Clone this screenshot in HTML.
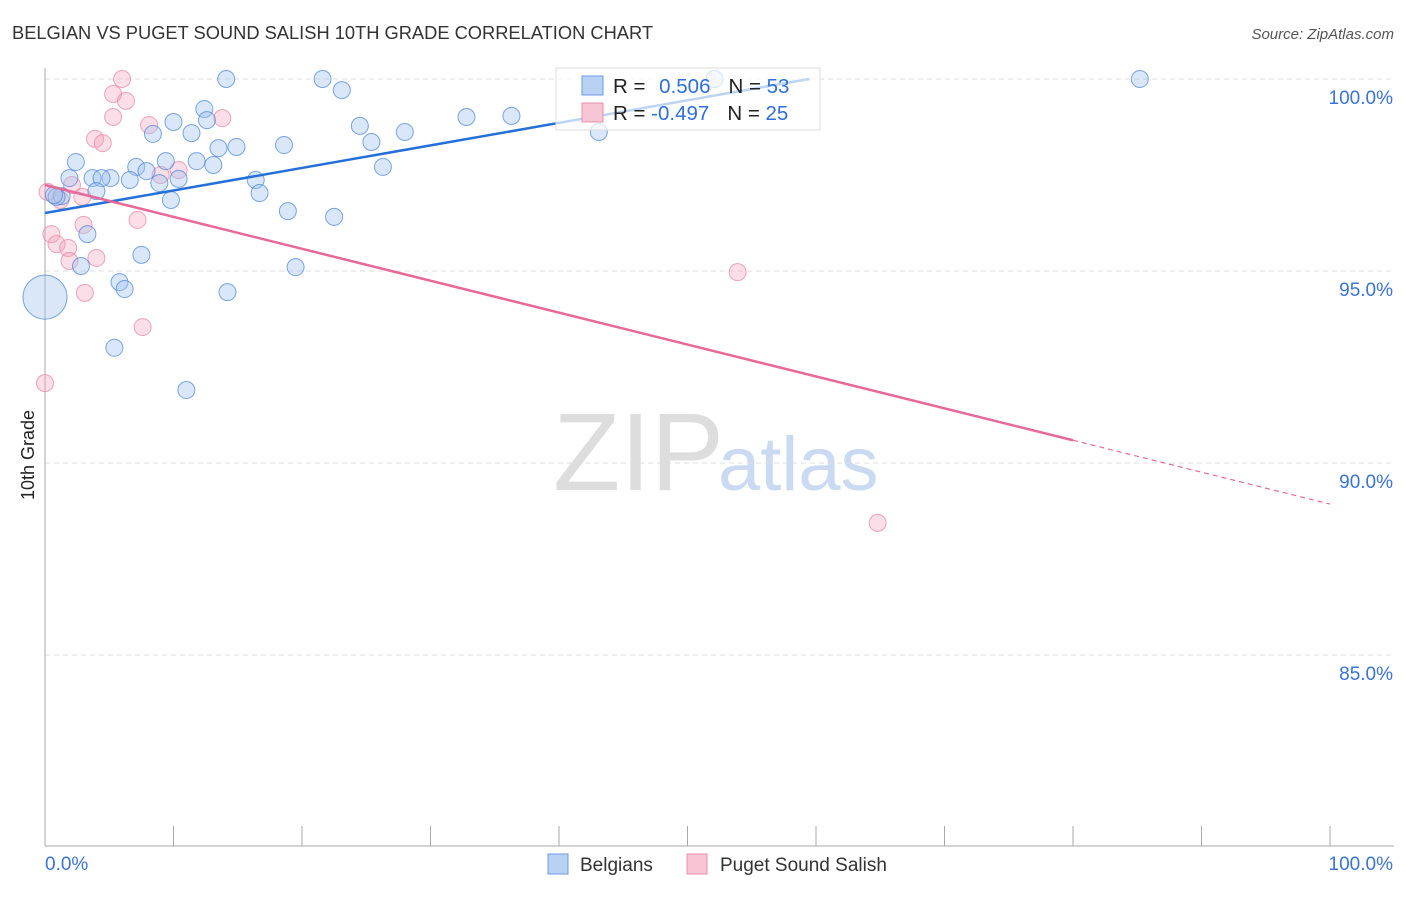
<!DOCTYPE html>
<html><head><meta charset="utf-8"><style>
body{margin:0;background:#fff;font-family:"Liberation Sans",sans-serif}
svg text{font-family:"Liberation Sans",sans-serif}
</style></head><body>
<svg id="c" width="1406" height="892">
<text x="12" y="39" font-size="18.3" fill="#333">BELGIAN VS PUGET SOUND SALISH 10TH GRADE CORRELATION CHART</text>
<text x="1394" y="39" font-size="15" fill="#555" text-anchor="end" font-style="italic">Source: ZipAtlas.com</text>
<text x="0" y="0" transform="translate(34,455) rotate(-90)" font-size="18" fill="#222" text-anchor="middle">10th Grade</text>
<g><text x="553" y="490" font-size="110" font-family="Liberation Serif" fill="#ddd">ZIP</text><text x="718" y="490" font-size="76" fill="#c9daf2">atlas</text></g>
<g id="grid"></g><g id="pts"></g><g id="lines"></g>
<g>
<rect x="556" y="68" width="264" height="62" fill="rgba(255,255,255,0.7)" stroke="#ddd"/>
<rect x="582" y="76" width="21" height="19" fill="#b7d1f3" stroke="#6d9be0"/>
<rect x="582" y="103" width="21" height="19" fill="#f8c5d4" stroke="#e890aa"/>
<text x="613" y="93" font-size="20.5" fill="#222">R = <tspan fill="#2f6fd6" dx="8">0.506</tspan><tspan fill="#222" dx="18">N = </tspan><tspan fill="#2f6fd6">53</tspan></text>
<text x="613" y="120" font-size="20.5" fill="#222">R = <tspan fill="#2f6fd6">-0.497</tspan><tspan fill="#222" dx="18">N = </tspan><tspan fill="#2f6fd6">25</tspan></text>
</g>
<g>
<rect x="548" y="854" width="20" height="20" fill="#b7d1f3" stroke="#6d9be0"/><text x="580" y="871" font-size="19" fill="#333">Belgians</text>
<rect x="687" y="854" width="20" height="20" fill="#f8c5d4" stroke="#e890aa"/><text x="720" y="871" font-size="19" fill="#333">Puget Sound Salish</text>
</g>
</svg>
<script>
const blueX=[14.1,21.6,52.1,85.2,23.1,12.4,10.0,12.6,8.4,11.4,24.5,32.8,36.3,28.0,43.1,18.6,25.4,14.9,13.5,2.4,11.8,9.4,7.1,13.1,7.9,26.3,1.9,3.7,5.1,4.4,6.6,8.9,10.4,16.4,4.0,16.7,1.3,0.9,9.8,18.9,22.5,3.3,7.5,2.8,19.5,5.8,6.2,14.2,0,5.4,11.0,0.7];
const blueY=[100,100,100,100,99.71,99.22,98.88,98.93,98.57,98.59,98.78,99.01,99.04,98.62,98.62,98.28,98.36,98.23,98.20,97.84,97.86,97.86,97.71,97.76,97.60,97.71,97.42,97.42,97.42,97.42,97.37,97.29,97.40,97.37,97.08,97.03,96.95,96.93,96.85,96.56,96.41,95.96,95.42,95.13,95.10,94.71,94.53,94.45,94.32,93.0,91.9,96.98];
const pinkX=[6.0,5.3,6.3,5.3,8.1,13.8,3.9,4.5,2.1,1.2,2.9,10.4,9.0,7.2,3.0,0.5,0.9,1.8,1.9,4.0,3.1,7.6,0,53.9,64.8,0.2];
const pinkY=[100,99.61,99.43,99.01,98.80,98.98,98.44,98.33,97.24,96.85,96.93,97.63,97.50,96.33,96.20,95.96,95.70,95.60,95.26,95.34,94.43,93.54,92.08,94.97,88.44,97.06];
const yTicks=[100,95,90,85];
const xTickLabels=["0.0%","100.0%"];
const blueTrend=[96.51,0.0587];
const pinkTrend=[97.24,-0.0831];
const X=v=>45+v*12.85, Y=v=>79+(100-v)*38.4;
const NS="http://www.w3.org/2000/svg";
function mk(t,a,p){const e=document.createElementNS(NS,t);for(const k in a)e.setAttribute(k,a[k]);p.appendChild(e);return e;}
const grid=document.getElementById('grid');
yTicks.forEach(t=>{
 const l=mk('line',{x1:45,x2:1394,y1:Y(t),y2:Y(t),stroke:'#ddd','stroke-dasharray':'5,4'},grid);
 
 
 const tx=mk('text',{x:1393,y:Y(t)+25,'font-size':19,fill:'#3a75d6','text-anchor':'end'},grid);tx.textContent=t.toFixed(1)+'%';
 
 
});
mk('line',{x1:45,x2:45,y1:68,y2:846,stroke:'#aaa'},grid);
mk('line',{x1:45,x2:1394,y1:846,y2:846,stroke:'#aaa'},grid);
for(let i=0;i<=10;i++){mk('line',{x1:X(i*10),x2:X(i*10),y1:826,y2:846,stroke:'#aaa'},grid);}
[[0,'start'],[100,'end']].forEach((p,i)=>{const t=mk('text',{x:i?1393:45,y:870,'font-size':19,fill:'#3a75d6','text-anchor':p[1]},grid);t.textContent=xTickLabels[i];
 
 });
const pts=document.getElementById('pts');
pinkX.forEach((x,i)=>{const c=mk('circle',{cx:X(x),cy:Y(pinkY[i]),r:8.5,fill:'rgba(244,160,186,0.35)',stroke:'rgba(232,130,160,0.7)'},pts);
 
 });
blueX.forEach((x,i)=>{const big=i===48;const c=mk('circle',{cx:X(x),cy:Y(blueY[i]),r:big?22:8.5,fill:'rgba(160,195,240,0.4)',stroke:'rgba(70,130,220,0.7)'},pts);
 
 });
const L=document.getElementById('lines');
const bl=mk('line',{x1:X(0),y1:Y(blueTrend[0]),x2:X(59.5),y2:Y(blueTrend[0]+blueTrend[1]*59.5),stroke:'#2470d8','stroke-width':2.5},L);


const pl=mk('line',{x1:X(0),y1:Y(pinkTrend[0]),x2:X(80),y2:Y(pinkTrend[0]+pinkTrend[1]*80),stroke:'#e8689a','stroke-width':2.5},L);


const pd=mk('line',{x1:X(80),y1:Y(pinkTrend[0]+pinkTrend[1]*80),x2:X(100),y2:Y(pinkTrend[0]+pinkTrend[1]*100),stroke:'#e8689a','stroke-width':1.2,'stroke-dasharray':'5,4'},L);


</script>
</body></html>
